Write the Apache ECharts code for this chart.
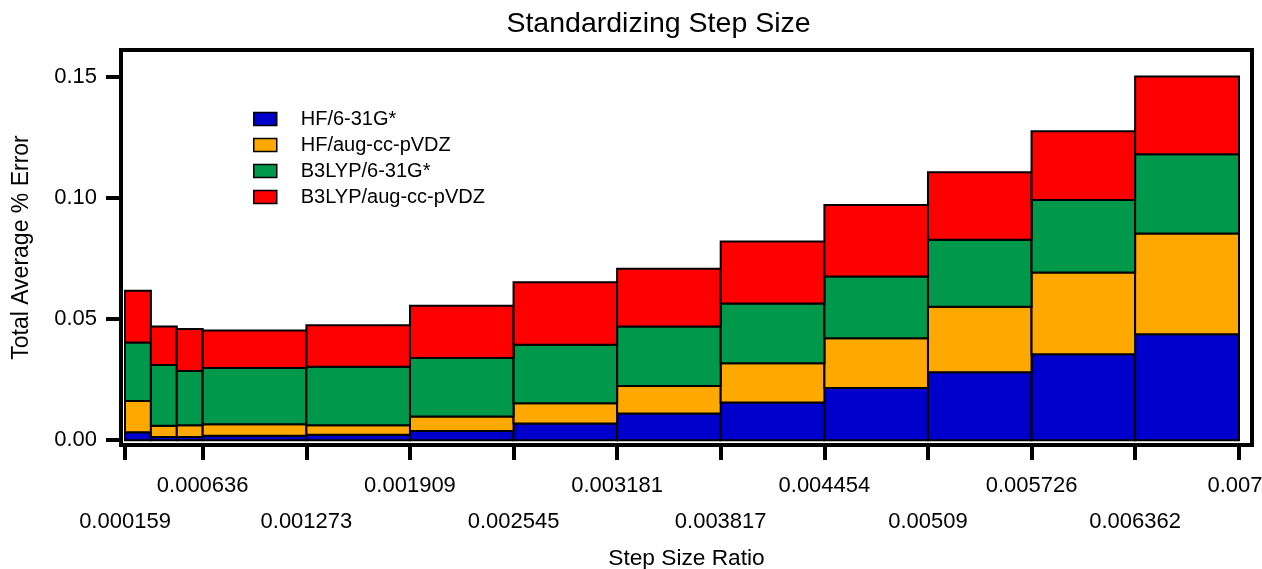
<!DOCTYPE html>
<html>
<head>
<meta charset="utf-8">
<script src="https://cdn.jsdelivr.net/npm/echarts@6/dist/echarts.min.js"></script>
<style>
html,body{margin:0;padding:0;background:#fff;}
#chart{width:1262px;height:569px;}
</style>
</head>
<body>
<div id="chart"></div>
<script>
// Bin edges (Step Size Ratio)
const binEdges = [0.000159, 0.000318, 0.000477, 0.000636, 0.001273, 0.001909, 0.002545, 0.003181, 0.003817, 0.004454, 0.00509, 0.005726, 0.006362, 0.007];
// Per-bin error contribution of each method (stacked)
const hf631 = [0.0033, 0.0013, 0.0013, 0.0018, 0.0022, 0.0038, 0.0069, 0.0110, 0.0156, 0.0215, 0.0281, 0.0355, 0.0438];
const hfAug = [0.0129, 0.0047, 0.0049, 0.0048, 0.0040, 0.0060, 0.0084, 0.0114, 0.0162, 0.0206, 0.0270, 0.0338, 0.0416];
const b3631 = [0.0242, 0.0251, 0.0224, 0.0232, 0.0241, 0.0241, 0.0241, 0.0246, 0.0247, 0.0255, 0.0277, 0.0299, 0.0327];
const b3Aug = [0.0213, 0.0159, 0.0173, 0.0155, 0.0172, 0.0216, 0.0258, 0.0238, 0.0256, 0.0296, 0.0279, 0.0284, 0.0322];
const seriesNames = ['HF/6-31G*', 'HF/aug-cc-pVDZ', 'B3LYP/6-31G*', 'B3LYP/aug-cc-pVDZ'];
const seriesColors = ['#0000CC', '#FFA800', '#00994C', '#FF0000'];
// Tick labels
const xTickValues = [0.000159, 0.000636, 0.001273, 0.001909, 0.002545, 0.003181, 0.003817, 0.004454, 0.00509, 0.005726, 0.006362, 0.007];
const xTickLabels = ['0.000159', '0.000636', '0.001273', '0.001909', '0.002545', '0.003181', '0.003817', '0.004454', '0.00509', '0.005726', '0.006362', '0.007'];
const yTickValues = [0, 0.05, 0.10, 0.15];
const yTickLabels = ['0.00', '0.05', '0.10', '0.15'];

const allSeries = [hf631, hfAug, b3631, b3Aug];
const upperVals = xTickValues.filter((v, i) => i % 2 === 1);
const lowerVals = xTickValues.filter((v, i) => i % 2 === 0);
function xIndex(v) {
  let best = 0, bd = Infinity;
  xTickValues.forEach((t, i) => { const d = Math.abs(t - v); if (d < bd) { bd = d; best = i; } });
  return best;
}
function xLabel(v) {
  const i = xIndex(v);
  if (i === xTickValues.length - 1) return '{last|' + xTickLabels[i] + '}';
  return xTickLabels[i];
}
function yLabel(v) {
  let best = 0, bd = Infinity;
  yTickValues.forEach((t, i) => { const d = Math.abs(t - v); if (d < bd) { bd = d; best = i; } });
  return yTickLabels[best];
}

const cum = new Array(binEdges.length - 1).fill(0);
const series = allSeries.map((vals, si) => {
  const data = vals.map((v, i) => {
    const base = cum[i];
    cum[i] += v;
    return [binEdges[i], binEdges[i + 1], base, cum[i]];
  });
  const color = seriesColors[si];
  return {
    type: 'custom',
    name: seriesNames[si],
    xAxisIndex: 0,
    yAxisIndex: 0,
    itemStyle: { color: color, borderColor: '#000', borderWidth: 1.5 },
    encode: { x: [0, 1], y: [2, 3] },
    renderItem: function (params, api) {
      const p0 = api.coord([api.value(0), api.value(3)]);
      const p1 = api.coord([api.value(1), api.value(2)]);
      return {
        type: 'rect',
        shape: { x: p0[0], y: p0[1], width: p1[0] - p0[0], height: p1[1] - p0[1] },
        style: { fill: color, stroke: '#000', lineWidth: 2 }
      };
    },
    data: data
  };
});

const font = 'Liberation Sans, Arial, sans-serif';
const labelRich = { last: { fontFamily: font, fontSize: 22, color: '#000', padding: [0, 8, 0, 0] } };
const chart = echarts.init(document.getElementById('chart'), null, { renderer: 'canvas' });
chart.setOption({
  animation: false,
  backgroundColor: '#fff',
  title: {
    text: 'Standardizing Step Size',
    left: 653.5,
    textAlign: 'center',
    top: 5,
    textStyle: { fontFamily: font, fontSize: 28.5, fontWeight: 'normal', color: '#000' }
  },
  legend: {
    orient: 'vertical',
    left: 253,
    top: 109,
    padding: 0,
    itemWidth: 23,
    itemHeight: 13,
    itemGap: 6,
    icon: 'rect',
    itemStyle: { borderColor: '#000', borderWidth: 1.5 },
    textStyle: { fontFamily: font, fontSize: 20, color: '#000', padding: [0, 0, 0, 19], lineHeight: 20 },
    data: seriesNames
  },
  grid: {
    left: 121, right: 10, top: 50, bottom: 124,
    outerBoundsMode: 'none',
    containLabel: false,
    show: true, borderColor: '#000', borderWidth: 4, backgroundColor: 'transparent'
  },
  xAxis: [
    {
      type: 'value',
      min: 0.0001344,
      max: 0.0070798,
      position: 'bottom',
      name: 'Step Size Ratio',
      nameLocation: 'middle',
      nameGap: 102,
      nameTextStyle: { fontFamily: font, fontSize: 22.7, color: '#000' },
      axisLine: { show: true, onZero: false, lineStyle: { color: '#000', width: 4 } },
      axisTick: { show: true, inside: false, length: 15, lineStyle: { color: '#000', width: 4 }, customValues: xTickValues },
      axisLabel: { show: true, margin: 30, fontFamily: font, fontSize: 22, color: '#000', customValues: upperVals, formatter: xLabel, rich: labelRich, showMinLabel: true, showMaxLabel: true },
      splitLine: { show: false }
    },
    {
      type: 'value',
      min: 0.0001344,
      max: 0.0070798,
      position: 'bottom',
      offset: 36,
      axisLine: { show: false },
      axisTick: { show: false },
      axisLabel: { show: true, margin: 30, fontFamily: font, fontSize: 22, color: '#000', customValues: lowerVals, formatter: xLabel, rich: labelRich, showMinLabel: true, showMaxLabel: true },
      splitLine: { show: false }
    }
  ],
  yAxis: {
    type: 'value',
    min: -0.002,
    max: 0.1612,
    name: 'Total Average % Error',
    nameLocation: 'middle',
    nameGap: 88,
    nameTextStyle: { fontFamily: font, fontSize: 23, color: '#000' },
    axisLine: { show: true, onZero: false, lineStyle: { color: '#000', width: 4 } },
    axisTick: { show: true, inside: false, length: 15, lineStyle: { color: '#000', width: 4 }, customValues: yTickValues },
    axisLabel: { show: true, margin: 24, fontFamily: font, fontSize: 22, color: '#000', customValues: yTickValues, formatter: yLabel },
    splitLine: { show: false }
  },
  series: series
});
</script>
</body>
</html>
